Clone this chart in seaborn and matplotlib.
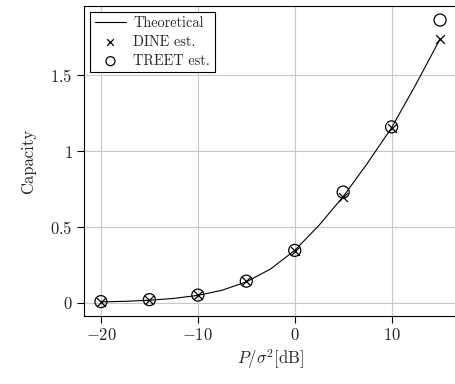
import matplotlib
matplotlib.use("Agg")
import matplotlib.pyplot as plt
import seaborn as sns
import pandas as pd

# SNR points (dB)
snr_db = [-20, -15, -10, -5, 0, 5, 10, 15]
dine_est = [0.006, 0.018, 0.048, 0.140, 0.343, 0.700, 1.155, 1.743]
treet_est = [0.007, 0.020, 0.050, 0.142, 0.345, 0.730, 1.160, 1.865]

# theoretical curve
theory_db = [-20, -17.5, -15, -12.5, -10, -7.5, -5, -2.5, 0, 2.5, 5, 7.5, 10, 12.5, 15]
theory_cap = [0.005, 0.009, 0.016, 0.028, 0.048, 0.082, 0.137, 0.222, 0.345,
              0.510, 0.700, 0.920, 1.155, 1.440, 1.740]

xticks = [-20, -10, 0, 10]
xtick_labels = ["$-20$", "$-10$", "$0$", "$10$"]
yticks = [0, 0.5, 1, 1.5]
ytick_labels = ["$0$", "$0.5$", "$1$", "$1.5$"]

sns.set_style("whitegrid")
plt.rcParams["font.family"] = ["cmr10", "DejaVu Serif"]
plt.rcParams["mathtext.fontset"] = "cm"
plt.rcParams["axes.unicode_minus"] = False

theory_df = pd.DataFrame({"snr": theory_db, "cap": theory_cap})
est_df = pd.DataFrame({"snr": snr_db, "dine": dine_est, "treet": treet_est})

fig = plt.figure(figsize=(4.56, 3.84), dpi=100)
ax = fig.add_axes([84 / 456, 68 / 384, (457 - 84) / 456, (316 - 6) / 384])

sns.lineplot(data=theory_df, x="snr", y="cap", ax=ax, color="black",
             linewidth=0.8, label="Theoretical")
sns.scatterplot(data=est_df, x="snr", y="dine", ax=ax, marker="x", color="black",
                s=40, linewidth=0.9, label="DINE est.")
sns.scatterplot(data=est_df, x="snr", y="treet", ax=ax, marker="o", facecolor="none",
                edgecolor="black", s=75, linewidth=0.9, label="TREET est.")

ax.set_xlim(-21.75, 16.75)
ax.set_ylim(-0.088, 1.958)
ax.set_xticks(xticks)
ax.set_xticklabels(xtick_labels)
ax.set_yticks(yticks)
ax.set_yticklabels(ytick_labels)
ax.tick_params(axis="both", direction="out", length=5, width=0.8, color="black",
               labelsize=12, pad=3, bottom=True, left=True)
ax.grid(True, color="#c8c8c8", linewidth=0.8)
for sp in ax.spines.values():
    sp.set_color("black")
    sp.set_linewidth(0.8)

ax.set_xlabel(r"$P/\sigma^2$[dB]", fontsize=12, labelpad=3)
ax.set_ylabel("Capacity", fontsize=12, labelpad=10)

leg = ax.legend(loc="upper left", fontsize=10.3, frameon=True, fancybox=False,
                edgecolor="black", framealpha=1, borderaxespad=0.45,
                handlelength=2.2, handletextpad=0.5, labelspacing=0.35,
                borderpad=0.3, markerscale=0.75)
leg.get_frame().set_linewidth(0.8)

fig.savefig("out.png", dpi=100)
